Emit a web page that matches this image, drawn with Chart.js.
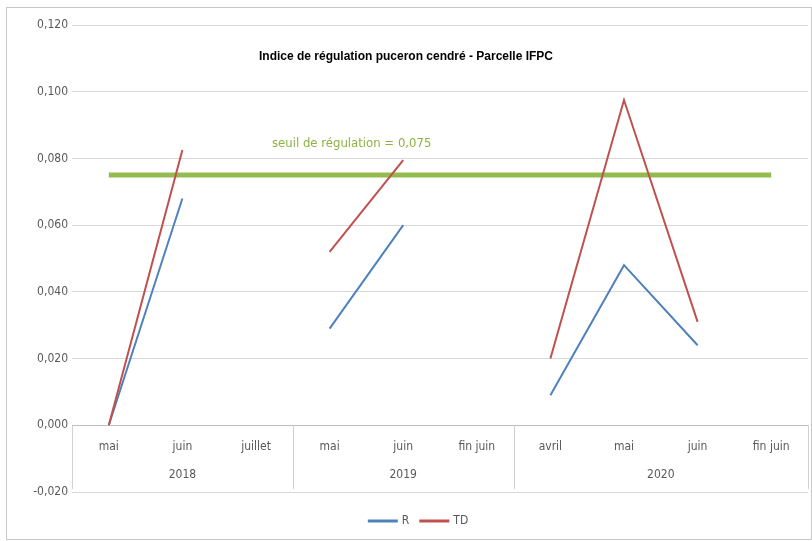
<!DOCTYPE html>
<html>
<head>
<meta charset="utf-8">
<script src="https://cdn.jsdelivr.net/npm/chart.js@4/dist/chart.umd.min.js"></script>
<style>
  html, body { margin: 0; padding: 0; background: #fff; }
  #wrap { width: 812px; height: 541px; position: relative; }
</style>
</head>
<body>
<div id="wrap"><canvas id="chart" width="812" height="541"></canvas></div>
<script>
// categories (month) with their year groups
const categories = ['mai', 'juin', 'juillet', 'mai', 'juin', 'fin juin', 'avril', 'mai', 'juin', 'fin juin'];
const years = ['2018', '2019', '2020'];
const yearSpans = [3, 3, 4];

// series values
const seriesR = [0.000, 0.068, null, 0.029, 0.060, null, 0.009, 0.048, 0.024, null];
const seriesTD = [0.000, 0.0825, null, 0.052, 0.0795, null, 0.020, 0.0975, 0.031, null];

const threshold = 0.075;
const thresholdLabel = 'seuil de régulation = 0,075';
const title = 'Indice de régulation puceron cendré - Parcelle IFPC';

const yTicks = [-0.02, 0, 0.02, 0.04, 0.06, 0.08, 0.1, 0.12];

const labelFont = '"Liberation Sans Narrow", "DejaVu Sans Condensed", sans-serif';

// draws the multi-level category axis, title, threshold label, legend and frame
const decorations = {
    id: 'decorations',
    beforeDraw(chart) {
        const c = chart.ctx;
        c.save();
        c.strokeStyle = '#c8c8c8';
        c.lineWidth = 1;
        c.strokeRect(6.5, 7.5, 805, 532);
        c.restore();
    },
    afterDatasetsDraw(chart) {
        const c = chart.ctx;
        const x = chart.scales.x;
        const y = chart.scales.y;
        const y0 = y.getPixelForValue(0);
        const yMin = y.getPixelForValue(-0.02);
        const step = x.getPixelForValue(1) - x.getPixelForValue(0);

        c.save();
        // group separators
        c.strokeStyle = '#d0d0d0';
        c.lineWidth = 1;
        let idx = 0;
        const bounds = [0];
        yearSpans.forEach(n => { idx += n; bounds.push(idx); });
        bounds.forEach(b => {
            const px = Math.round(x.getPixelForValue(b) - step / 2) + 0.5;
            c.beginPath();
            c.moveTo(px, y0);
            c.lineTo(px, yMin - 3);
            c.stroke();
        });

        // month labels
        c.fillStyle = '#595959';
        c.font = '12px ' + labelFont;
        c.textAlign = 'center';
        c.textBaseline = 'middle';
        categories.forEach((lab, i) => {
            c.fillText(lab, x.getPixelForValue(i), y0 + 22);
        });
        // year labels
        idx = 0;
        years.forEach((yr, g) => {
            const mid = idx + (yearSpans[g] - 1) / 2;
            c.fillText(yr, x.getPixelForValue(mid), y0 + 50);
            idx += yearSpans[g];
        });

        // threshold label
        c.fillStyle = '#8db244';
        c.font = '13px ' + labelFont;
        c.fillText(thresholdLabel, x.getPixelForValue(3.3), y.getPixelForValue(threshold) - 31);

        // title
        c.fillStyle = '#000';
        c.font = 'bold 12px "Liberation Sans", Arial, sans-serif';
        c.fillText(title, 406, 57);

        // legend (R, TD)
        c.font = '12px ' + labelFont;
        c.textAlign = 'left';
        const items = chart.data.datasets.filter(d => d.label !== 'seuil');
        const lineLen = 30, gap = 4, itemGap = 10;
        const widths = items.map(d => lineLen + gap + c.measureText(d.label).width);
        const total = widths.reduce((a, b) => a + b, 0) + itemGap * (items.length - 1);
        let lx = 418 - total / 2;
        const ly = 521;
        items.forEach((d, i) => {
            c.strokeStyle = d.borderColor;
            c.lineWidth = 3;
            c.beginPath();
            c.moveTo(lx, ly);
            c.lineTo(lx + lineLen, ly);
            c.stroke();
            c.fillStyle = '#595959';
            c.fillText(d.label, lx + lineLen + gap, ly);
            lx += widths[i] + itemGap;
        });
        c.restore();
    }
};

const ctx = document.getElementById('chart').getContext('2d');
const chart = new Chart(ctx, {
    type: 'line',
    data: {
        labels: categories.map((c, i) => i),
        datasets: [
            {
                label: 'R',
                data: seriesR,
                borderColor: '#4f81bd',
                backgroundColor: '#4f81bd',
                borderWidth: 2,
                pointRadius: 0,
                spanGaps: false,
                order: 1
            },
            {
                label: 'TD',
                data: seriesTD,
                borderColor: '#c0504d',
                backgroundColor: '#c0504d',
                borderWidth: 2,
                pointRadius: 0,
                spanGaps: false,
                order: 0
            },
            {
                label: 'seuil',
                data: categories.map(() => threshold),
                borderColor: '#94bb50',
                backgroundColor: '#94bb50',
                borderWidth: 5,
                pointRadius: 0,
                order: 2
            }
        ]
    },
    options: {
        responsive: false,
        animation: false,
        layout: { padding: { left: 0, right: 4, top: 25, bottom: 41 } },
        plugins: {
            legend: { display: false },
            tooltip: { enabled: false },
            title: { display: false }
        },
        scales: {
            x: {
                type: 'category',
                offset: true,
                grid: { display: false },
                border: { display: false },
                ticks: { display: false }
            },
            y: {
                min: -0.02,
                max: 0.12,
                afterBuildTicks: scale => { scale.ticks = yTicks.map(v => ({ value: v })); },
                afterFit: scale => { scale.width = 72; },
                grid: {
                    color: ctx => ctx.tick && ctx.tick.value === 0 ? '#bfbfbf' : '#d9d9d9',
                    drawTicks: false
                },
                border: { display: false },
                ticks: {
                    color: '#595959',
                    padding: 4,
                    font: { family: labelFont, size: 12 },
                    callback: v => v.toFixed(3).replace('.', ',')
                }
            }
        }
    },
    plugins: [decorations]
});
</script>
</body>
</html>
